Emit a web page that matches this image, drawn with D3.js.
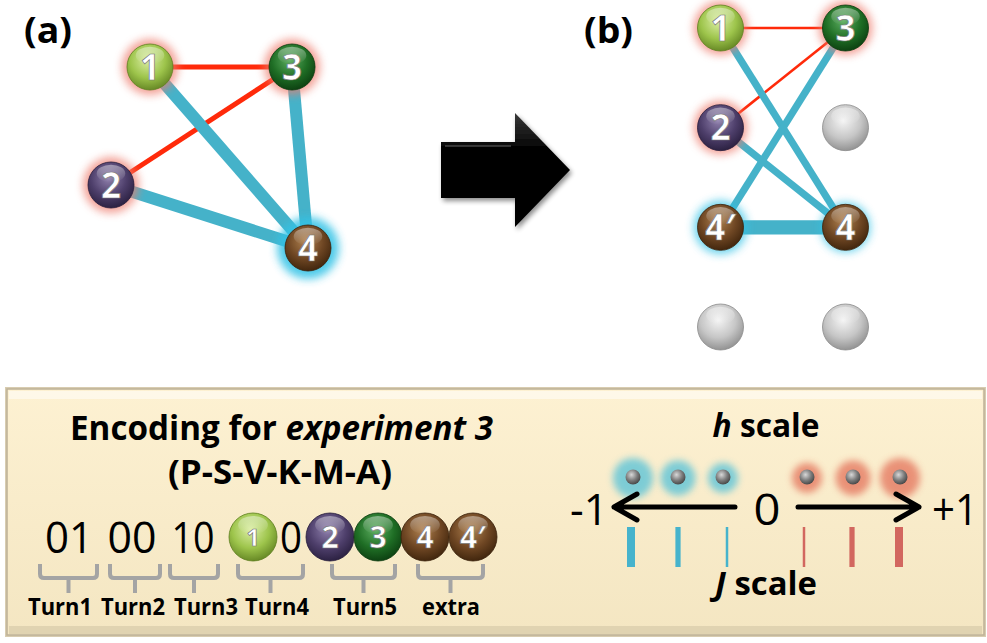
<!DOCTYPE html>
<html><head><meta charset="utf-8">
<script src="https://cdn.jsdelivr.net/npm/d3@7"></script>
<style>html,body{margin:0;padding:0;background:#fff}svg{display:block}</style>
</head><body>
<svg id="c" width="987" height="643"></svg>
<script>
// ---------------- data ----------------
const nodeTypes = ["1","2","3","4","4\u2032","empty"];
const panelANodes = ["1","3","2","4"];
const panelAGlow = ["red","red","red","blue"];
const panelAEdges = [["1","3","red"],["2","3","red"],["1","4","blue"],["3","4","blue"],["2","4","blue"]];
const panelBNodes = ["1","3","2","empty","4\u2032","4","empty","empty"];
const panelBGlow = ["red","red","red","none","blue","blue","none","none"];
const panelBEdges = [["1","3","red",1],["2","3","red",1],["1","4","blue",2],["2","4","blue",2],["3","4\u2032","blue",2],["4\u2032","4","blue",4]];
const encodingTokens = ["01","00","10","ball:1","0","ball:2","ball:3","ball:4","ball:4\u2032"];
const turnLabels = ["Turn1","Turn2","Turn3","Turn4","Turn5","extra"];
const hValues = [-1,-0.66,-0.33,0.33,0.66,1];
const jValues = [-1,-0.66,-0.33,0.33,0.66,1];
const scaleTicks = ["-1","0","+1"];

// ---------------- layout ----------------
const svg = d3.select("#c");
const defs = svg.append("defs");
const colors = {
  "1":{l:"#dbeea4",m:"#9dc44b",d:"#5e7f1f"},
  "2":{l:"#8f80ad",m:"#4e3f6b",d:"#261c3b"},
  "3":{l:"#5cad60",m:"#1f6e25",d:"#0a3a0e"},
  "4":{l:"#b08250",m:"#6e4623",d:"#3a210a"},
  "4\u2032":{l:"#b08250",m:"#6e4623",d:"#3a210a"},
  "empty":{l:"#f4f4f4",m:"#c6c6c6",d:"#8a8a8a"}
};
const edgeColor = {red:"#ff2a0a", blue:"#45b2c9"};
const glowColor = {red:"#ee7a6c", blue:"#33c2e6", hred:"#e57a62", hblue:"#5fc4d8"};
nodeTypes.forEach((t,i)=>{
  const c = colors[t];
  const g = defs.append("radialGradient").attr("id","sph"+i).attr("cx","45%").attr("cy","35%").attr("r","70%");
  g.append("stop").attr("offset","0%").attr("stop-color",c.l);
  g.append("stop").attr("offset","55%").attr("stop-color",c.m);
  g.append("stop").attr("offset","100%").attr("stop-color",c.d);
});
const hl = defs.append("linearGradient").attr("id","hl").attr("x1",0).attr("y1",0).attr("x2",0).attr("y2",1);
hl.append("stop").attr("offset","0%").attr("stop-color","#fff").attr("stop-opacity",0.75);
hl.append("stop").attr("offset","100%").attr("stop-color","#fff").attr("stop-opacity",0);
const blur = defs.append("filter").attr("id","glow").attr("x","-100%").attr("y","-100%").attr("width","300%").attr("height","300%");
blur.append("feGaussianBlur").attr("stdDeviation",4);
const blur2 = defs.append("filter").attr("id","glow2").attr("x","-100%").attr("y","-100%").attr("width","300%").attr("height","300%");
blur2.append("feGaussianBlur").attr("stdDeviation",3.5);
const shadow = defs.append("filter").attr("id","shadow").attr("x","-20%").attr("y","-20%").attr("width","150%").attr("height","150%");
shadow.append("feGaussianBlur").attr("in","SourceAlpha").attr("stdDeviation",2.5).attr("result","b");
shadow.append("feOffset").attr("dx",2).attr("dy",3).attr("result","o");
shadow.append("feComponentTransfer").append("feFuncA").attr("type","linear").attr("slope",0.45);
const fm = shadow.append("feMerge"); fm.append("feMergeNode"); fm.append("feMergeNode").attr("in","SourceGraphic");
const boxG = defs.append("linearGradient").attr("id","boxg").attr("x1",0).attr("y1",0).attr("x2",0).attr("y2",1);
boxG.append("stop").attr("offset","0%").attr("stop-color","#fdf1d2");
boxG.append("stop").attr("offset","100%").attr("stop-color","#f4e6c2");
const arrG = defs.append("linearGradient").attr("id","arrg").attr("x1",0).attr("y1",0).attr("x2",0).attr("y2",1);
arrG.append("stop").attr("offset","0%").attr("stop-color","#3a3a3a");
arrG.append("stop").attr("offset","30%").attr("stop-color","#050505");
arrG.append("stop").attr("offset","100%").attr("stop-color","#000");

function ball(g, x, y, r, type, label, fs){
  const i = nodeTypes.indexOf(type);
  g.append("circle").attr("cx",x).attr("cy",y).attr("r",r).attr("fill",`url(#sph${i})`).attr("stroke",colors[type].d).attr("stroke-width",0.8);
  g.append("ellipse").attr("cx",x).attr("cy",y-r*0.5).attr("rx",r*0.62).attr("ry",r*0.38).attr("fill","url(#hl)").attr("opacity",0.55);
  if(label){
    g.append("text").attr("x",x).attr("y",y).attr("dy","0.36em").attr("text-anchor","middle")
      .attr("font-family","Open Sans, sans-serif").attr("font-weight",700).attr("font-size",fs)
      .attr("fill","#fff").attr("stroke","#777").attr("stroke-width",0.7).text(label);
  }
}
function glow(g,x,y,r,col,op,f){
  g.append("circle").attr("cx",x).attr("cy",y).attr("r",r).attr("fill",glowColor[col]).attr("opacity",op).attr("filter",`url(#${f||"glow"})`);
}

// ---- Panel (a) ----
const ax = d3.scaleLinear().domain([0,1]).range([111,308]);
const ay = d3.scaleLinear().domain([0,1]).range([67,248]);
const aPos = {"1":[0.198,0],"3":[0.919,0],"2":[0,0.652],"4":[1,1]};
const gA = svg.append("g");
panelAEdges.forEach(([s,t,c])=>{
  gA.append("line").attr("x1",ax(aPos[s][0])).attr("y1",ay(aPos[s][1])).attr("x2",ax(aPos[t][0])).attr("y2",ay(aPos[t][1]))
    .attr("stroke",edgeColor[c]).attr("stroke-width",c==="red"?5:12);
});
const gAn = svg.append("g");
panelANodes.forEach((n,i)=>{
  const x=ax(aPos[n][0]), y=ay(aPos[n][1]);
  glow(gAn,x,y,n==="4"?31:28,panelAGlow[i],n==="4"?0.85:0.7);
});
panelANodes.forEach((n)=>{ ball(gAn,ax(aPos[n][0]),ay(aPos[n][1]),23,n,n,35); });
svg.append("text").attr("x",24).attr("y",43).attr("font-family","Open Sans, sans-serif").attr("font-weight",700).attr("font-size",36)
  .attr("textLength",48).attr("lengthAdjust","spacingAndGlyphs").text("(a)");

// ---- arrow ----
svg.append("path").attr("d","M441,142 L515,142 L515,113 L570,170 L515,227 L515,198 L441,198 Z").attr("fill","url(#arrg)").attr("filter","url(#shadow)");
svg.append("path").attr("d","M445,146 L511,146").attr("stroke","#555").attr("stroke-width",2).attr("opacity",0.6);

// ---- Panel (b) ----
const bx = d3.scaleBand().domain([0,1]).range([658,908]).paddingInner(0).paddingOuter(0);
const by = d3.scaleLinear().domain([0,3]).range([28,327]);
const bIdx = panelBNodes.map((n,i)=>({n, col:i%2, row:Math.floor(i/2), glow:panelBGlow[i]}));
const bPos = {}; bIdx.forEach(d=>{ if(d.n!=="empty") bPos[d.n]=[bx(d.col)+bx.bandwidth()/2, by(d.row)]; });
const gB = svg.append("g");
panelBEdges.forEach(([s,t,c,w])=>{
  gB.append("line").attr("x1",bPos[s][0]).attr("y1",bPos[s][1]).attr("x2",bPos[t][0]).attr("y2",bPos[t][1])
    .attr("stroke",edgeColor[c]).attr("stroke-width",c==="red"?2.6:w*3.6);
});
bIdx.forEach(d=>{ if(d.glow!=="none") glow(gB,bx(d.col)+bx.bandwidth()/2,by(d.row),d.n==="4"?25:27,d.glow,0.7); });
bIdx.forEach(d=>{ ball(gB,bx(d.col)+bx.bandwidth()/2,by(d.row),23,d.n,d.n==="empty"?null:d.n,35); });
svg.append("text").attr("x",584).attr("y",43).attr("font-family","Open Sans, sans-serif").attr("font-weight",700).attr("font-size",36)
  .attr("textLength",49).attr("lengthAdjust","spacingAndGlyphs").text("(b)");

// ---- bottom box ----
svg.append("rect").attr("x",5).attr("y",387).attr("width",981).attr("height",250).attr("fill","#d8ccb0");
svg.append("rect").attr("x",7).attr("y",389).attr("width",977).attr("height",246).attr("fill","url(#boxg)").attr("stroke","#bdb197").attr("stroke-width",1.5);
svg.append("rect").attr("x",9).attr("y",391).attr("width",973).attr("height",8).attr("fill","#fff").attr("opacity",0.5);
svg.append("rect").attr("x",9).attr("y",626).attr("width",973).attr("height",8).attr("fill","#cbbf9f").attr("opacity",0.5);

const tf = "Open Sans, sans-serif";
const t1 = svg.append("text").attr("x",70).attr("y",440).attr("font-family",tf).attr("font-weight",700).attr("font-size",34)
  .attr("textLength",423).attr("lengthAdjust","spacingAndGlyphs");
t1.append("tspan").text("Encoding for ");
t1.append("tspan").attr("font-style","italic").text("experiment 3");
svg.append("text").attr("x",168).attr("y",484).attr("font-family",tf).attr("font-weight",700).attr("font-size",34)
  .attr("textLength",224).attr("lengthAdjust","spacingAndGlyphs").text("(P-S-V-K-M-A)");

// encoding row
const tokX = [69,132,193,253,291,330,378,425,473];
const tokW = [48,49,43,0,22,0,0,0,0];
const gE = svg.append("g");
encodingTokens.forEach((tk,i)=>{
  if(tk.startsWith("ball:")){
    const lab = tk.slice(5);
    ball(gE,tokX[i],537,24,lab,lab,lab==="1"?24:30);
  } else {
    gE.append("text").attr("x",tokX[i]).attr("y",553).attr("text-anchor","middle").attr("font-family",tf).attr("font-size",44)
      .attr("textLength",tokW[i]).attr("lengthAdjust","spacingAndGlyphs").text(tk);
  }
});
// braces
const braceX = [[40,97],[110,160],[170,218],[238,303],[332,395],[418,483]];
const labX = [60,133,206,277,365,451];
turnLabels.forEach((lab,i)=>{
  const [x0,x1] = braceX[i], xm=(x0+x1)/2;
  svg.append("path").attr("d",`M${x0},564 L${x0},574 Q${x0},578 ${x0+4},578 L${x1-4},578 Q${x1},578 ${x1},574 L${x1},564 M${xm},578 L${xm},593`)
    .attr("fill","none").attr("stroke","#a4a4a4").attr("stroke-width",4).attr("stroke-linejoin","round");
  svg.append("text").attr("x",labX[i]).attr("y",615).attr("text-anchor","middle").attr("font-family",tf).attr("font-weight",700).attr("font-size",24)
    .attr("textLength",lab==="extra"?58:64).attr("lengthAdjust","spacingAndGlyphs").text(lab);
});

// ---- h / J scales ----
const ht = svg.append("text").attr("x",766).attr("y",437).attr("text-anchor","middle").attr("font-family",tf).attr("font-weight",700).attr("font-size",33)
  .attr("textLength",107).attr("lengthAdjust","spacingAndGlyphs");
ht.append("tspan").attr("font-style","italic").text("h");
ht.append("tspan").text(" scale");
const jt = svg.append("text").attr("x",766).attr("y",595).attr("text-anchor","middle").attr("font-family",tf).attr("font-weight",700).attr("font-size",33)
  .attr("textLength",102).attr("lengthAdjust","spacingAndGlyphs");
jt.append("tspan").attr("font-style","italic").text("J");
jt.append("tspan").text(" scale");
const hx = [633,678,723,807,853,900];
const glowR = d3.scaleLinear().domain([0.33,1]).range([15,20]);
hValues.forEach((v,i)=>{
  glow(svg,hx[i],478,glowR(Math.abs(v)),v<0?"hblue":"hred",0.8,"glow2");
});
defs.append("radialGradient").attr("id","sb").attr("cx","40%").attr("cy","35%").attr("r","65%")
  .call(g=>{g.append("stop").attr("offset","0%").attr("stop-color","#d8d8d8");g.append("stop").attr("offset","60%").attr("stop-color","#7a7a7a");g.append("stop").attr("offset","100%").attr("stop-color","#4a4a4a");});
hValues.forEach((v,i)=>{ svg.append("circle").attr("cx",hx[i]).attr("cy",477).attr("r",7.5).attr("fill","url(#sb)"); });
// arrows
svg.append("path").attr("d","M735,507 L614,507 M637,494 L614,507 L637,520").attr("fill","none").attr("stroke","#000").attr("stroke-width",5).attr("stroke-linecap","round").attr("stroke-linejoin","round");
svg.append("path").attr("d","M798,507 L919,507 M896,494 L919,507 L896,520").attr("fill","none").attr("stroke","#000").attr("stroke-width",5).attr("stroke-linecap","round").attr("stroke-linejoin","round");
const tickX = [589,767,955];
const tickW = [38,27,46];
scaleTicks.forEach((t,i)=>{
  svg.append("text").attr("x",tickX[i]).attr("y",525).attr("text-anchor","middle").attr("font-family",tf).attr("font-size",44)
    .attr("textLength",tickW[i]).attr("lengthAdjust","spacingAndGlyphs").text(t);
});
const jx = [631,678,727,804,852,899];
const jw = d3.scaleLinear().domain([0.33,1]).range([2.5,8]);
jValues.forEach((v,i)=>{
  const w = jw(Math.abs(v));
  svg.append("rect").attr("x",jx[i]-w/2).attr("y",527).attr("width",w).attr("height",40).attr("fill",v<0?"#46b3cc":"#d2675f");
});
</script>
</body></html>
